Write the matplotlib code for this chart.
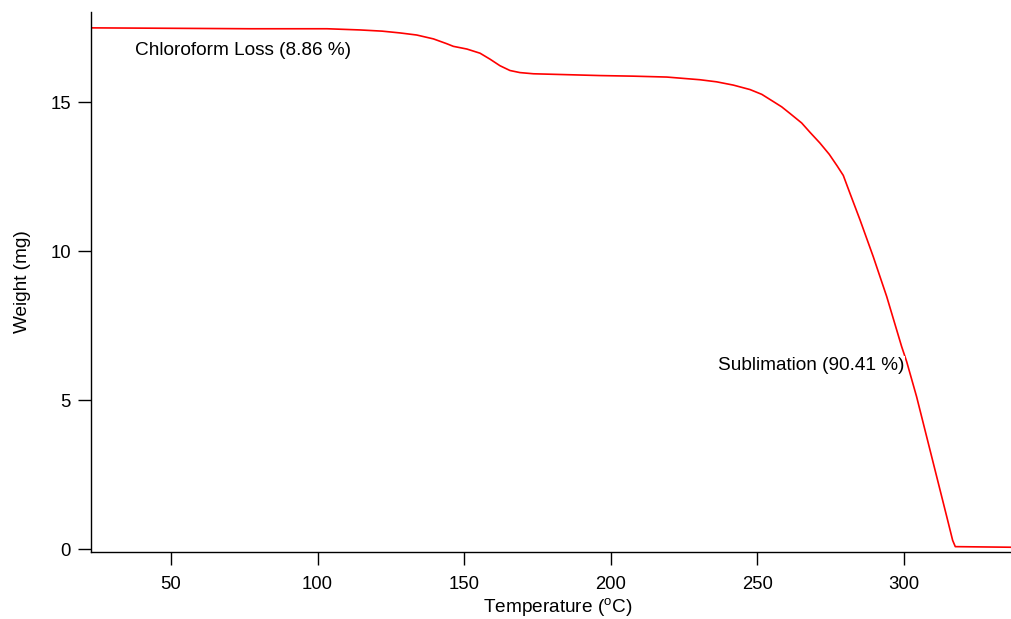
import matplotlib.pyplot as plt
import numpy as np

plt.rcParams['font.family'] = ['Liberation Sans', 'DejaVu Sans']
plt.rcParams['mathtext.fontset'] = 'custom'
plt.rcParams['mathtext.rm'] = 'Liberation Sans'

# TGA trace
temperature = [22.7, 60.0, 77.0, 103.2, 114.5, 122.0, 128.1, 133.8, 139.5, 144.0,
               146.3, 150.9, 155.4, 158.8, 162.2, 165.6, 169.0, 173.6, 185.0, 196.3,
               207.7, 219.1, 230.4, 236.1, 241.8, 247.5, 251.5, 255.4, 258.3, 261.1,
               265.1, 268.0, 271.3, 274.5, 277.2, 279.3, 281.5, 285.0, 289.5, 294.1,
               297.5, 299.2, 300.9, 304.3, 310.0, 314.6, 316.6, 317.5, 336.5]
weight = [17.49, 17.47, 17.46, 17.46, 17.42, 17.38, 17.32, 17.25, 17.12, 16.96,
          16.87, 16.78, 16.64, 16.44, 16.22, 16.06, 15.99, 15.95, 15.92, 15.89,
          15.87, 15.84, 15.75, 15.68, 15.57, 15.42, 15.26, 15.02, 14.84, 14.62,
          14.30, 13.98, 13.63, 13.25, 12.86, 12.54, 11.96, 11.05, 9.82, 8.48,
          7.36, 6.80, 6.30, 5.12, 2.89, 1.09, 0.30, 0.09, 0.07]

x_ticks = [50, 100, 150, 200, 250, 300]
y_ticks = [0, 5, 10, 15]

fig = plt.figure(figsize=(10.11, 6.19), dpi=100)
ax = fig.add_axes([0.090, 0.109, 0.910, 0.872])

ax.plot(temperature, weight, color='red', lw=1.2)

ax.set_xlim(22.7, 336.5)
ax.set_ylim(-0.074, 18.03)
ax.set_xticks(x_ticks)
ax.set_yticks(y_ticks)

for side in ['top', 'right']:
    ax.spines[side].set_visible(False)
for side in ['left', 'bottom']:
    ax.spines[side].set_linewidth(1.0)

ax.tick_params(direction='out', length=9.5, width=1.0, labelsize=13.3)
ax.tick_params(axis='x', pad=8.2)
ax.tick_params(axis='y', pad=5)

ax.set_xlabel(r'Temperature ($^{\mathrm{o}}$C)', fontsize=13.7, labelpad=2.5)
ax.xaxis.label.set_x(0.5076)
ax.set_ylabel('Weight (mg)', fontsize=13.7, labelpad=14)

ax.text(37.7, 16.72, 'Chloroform Loss (8.86 %)', fontsize=13.7, va='center', ha='left')
ax.text(236.6, 6.18, 'Sublimation (90.41 %)', fontsize=13.7, va='center', ha='left',
        bbox=dict(facecolor='white', edgecolor='none', pad=0.3), zorder=3)

fig.savefig('out.png', dpi=100)
plt.close()
